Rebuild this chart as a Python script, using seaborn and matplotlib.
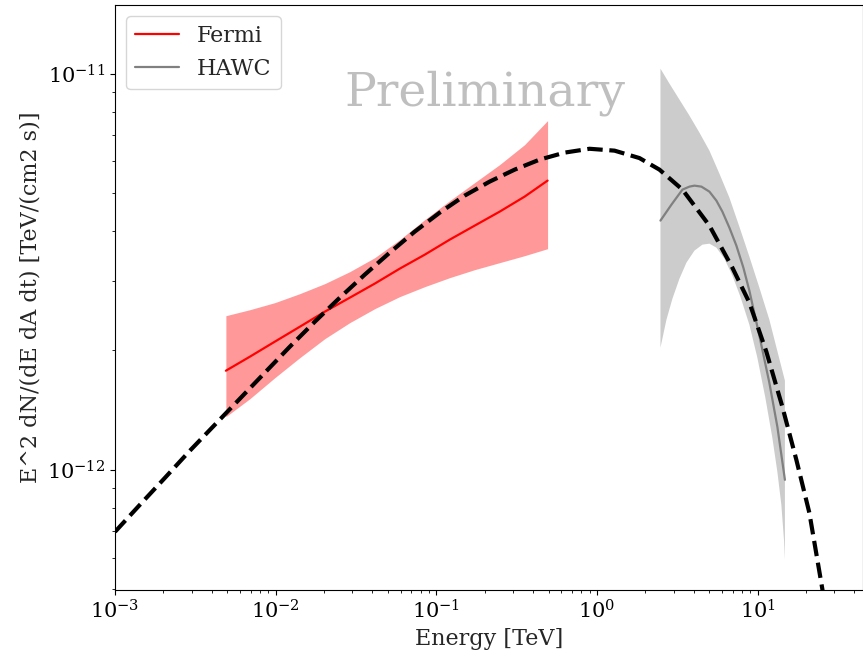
import numpy as np
import pandas as pd
import matplotlib
matplotlib.use("Agg")
import matplotlib.pyplot as plt
import seaborn as sns

# ---- data ----
# model curve (dashed)
model_E = [0.001, 0.00143, 0.002046, 0.002926, 0.004185, 0.005989, 0.008566, 0.01226,
           0.01753, 0.02507, 0.03587, 0.05131, 0.07339, 0.1050, 0.1502, 0.2149,
           0.3074, 0.4395, 0.6288, 0.8995, 1.287, 1.840, 2.451, 3.406, 5.015,
           6.970, 8.892, 11.34, 14.26, 17.43, 21.00, 25.29, 26.40]
model_F = [6.97e-13, 8.16e-13, 9.54e-13, 1.117e-12, 1.299e-12, 1.511e-12, 1.758e-12,
           2.045e-12, 2.364e-12, 2.718e-12, 3.108e-12, 3.532e-12, 3.990e-12,
           4.457e-12, 4.920e-12, 5.338e-12, 5.722e-12, 6.065e-12, 6.317e-12,
           6.460e-12, 6.390e-12, 6.120e-12, 5.722e-12, 5.095e-12, 4.132e-12,
           3.236e-12, 2.641e-12, 1.986e-12, 1.443e-12, 1.060e-12, 7.79e-13,
           5.006e-13, 4.48e-13]

# Fermi best fit and band
fermi_E = [0.0049, 0.00691, 0.00988, 0.01414, 0.02023, 0.02893, 0.04139, 0.05922,
           0.08471, 0.1212, 0.1733, 0.2479, 0.3546, 0.493]
fermi_F = [1.778e-12, 1.929e-12, 2.105e-12, 2.296e-12, 2.506e-12, 2.718e-12,
           2.950e-12, 3.218e-12, 3.490e-12, 3.809e-12, 4.132e-12, 4.482e-12,
           4.891e-12, 5.369e-12]
fermi_up = [2.448e-12, 2.535e-12, 2.641e-12, 2.783e-12, 2.950e-12, 3.162e-12,
            3.430e-12, 3.809e-12, 4.279e-12, 4.778e-12, 5.306e-12, 5.891e-12,
            6.617e-12, 7.609e-12]
fermi_lo = [1.361e-12, 1.511e-12, 1.707e-12, 1.918e-12, 2.142e-12, 2.351e-12,
            2.550e-12, 2.735e-12, 2.898e-12, 3.054e-12, 3.199e-12, 3.332e-12,
            3.470e-12, 3.614e-12]

# HAWC best fit and band
hawc_E = [2.486, 2.910, 3.406, 3.766, 4.046, 4.472, 5.015, 5.544, 6.040, 6.677,
          7.381, 8.160, 8.892, 10.26, 11.84, 13.28, 14.8]
hawc_F = [4.255e-12, 4.669e-12, 5.095e-12, 5.184e-12, 5.214e-12, 5.184e-12,
          5.035e-12, 4.778e-12, 4.482e-12, 4.084e-12, 3.679e-12, 3.236e-12,
          2.831e-12, 2.180e-12, 1.658e-12, 1.284e-12, 9.43e-13]
hawc_up_E = [2.486, 2.828, 3.264, 3.766, 4.346, 5.015, 5.787, 6.677, 7.704, 8.892,
             10.26, 11.84, 14.8]
hawc_up_F = [10.29e-12, 9.435e-12, 8.597e-12, 7.833e-12, 7.096e-12, 6.390e-12,
             5.591e-12, 4.863e-12, 4.108e-12, 3.451e-12, 2.882e-12, 2.392e-12,
             1.678e-12]
hawc_lo_E = [2.486, 2.709, 2.952, 3.264, 3.607, 4.046, 4.537, 5.015, 5.544, 6.216,
             6.970, 7.816, 8.892, 9.97, 11.18, 12.36, 13.28, 14.06, 14.6, 14.8]
hawc_lo_F = [2.033e-12, 2.392e-12, 2.703e-12, 3.036e-12, 3.332e-12, 3.573e-12,
             3.700e-12, 3.721e-12, 3.636e-12, 3.410e-12, 3.090e-12, 2.735e-12,
             2.323e-12, 1.918e-12, 1.520e-12, 1.204e-12, 9.88e-13, 8.16e-13,
             6.66e-13, 5.92e-13]

x_ticks = [1e-3, 1e-2, 1e-1, 1e0, 1e1]
y_ticks = [1e-12, 1e-11]

# ---- style ----
sns.set_style("ticks", {"axes.edgecolor": "black", "xtick.color": "black",
                        "ytick.color": "black", "xtick.direction": "out",
                        "ytick.direction": "out"})
plt.rcParams["font.family"] = ["DejaVu Serif"]
plt.rcParams["mathtext.fontset"] = "dejavuserif"

fig = plt.figure(figsize=(8.63, 6.59), dpi=100)
ax = fig.add_axes([115 / 863, 1 - 590 / 659, 747.5 / 863, 585 / 659])

df_model = pd.DataFrame({"E": model_E, "F": model_F})
df_fermi = pd.DataFrame({"E": fermi_E, "F": fermi_F})
df_hawc = pd.DataFrame({"E": hawc_E, "F": hawc_F})

ax.fill_between(fermi_E, fermi_lo, fermi_up, color="red", alpha=0.4, lw=0)
ax.fill(list(hawc_up_E) + list(hawc_lo_E[::-1]),
        list(hawc_up_F) + list(hawc_lo_F[::-1]), color="gray", alpha=0.4, lw=0)

sns.lineplot(data=df_fermi, x="E", y="F", color="red", lw=1.6, label="Fermi",
             sort=False, ax=ax)
sns.lineplot(data=df_hawc, x="E", y="F", color="gray", lw=1.6, label="HAWC",
             sort=False, ax=ax)
sns.lineplot(data=df_model, x="E", y="F", color="black", lw=3, linestyle="--",
             sort=False, ax=ax)

ax.set_xscale("log")
ax.set_yscale("log")
ax.set_xlim(1e-3, 45)
ax.set_ylim(4.97e-13, 1.49e-11)
ax.set_xticks(x_ticks)
ax.set_yticks(y_ticks)
ax.tick_params(axis="both", which="major", labelsize=15)

ax.set_xlabel("Energy [TeV]", fontsize=16)
ax.set_ylabel("E^2 dN/(dE dA dt) [TeV/(cm2 s)]", fontsize=16)

ax.text(0.495, 0.85, "Preliminary", transform=ax.transAxes, ha="center",
        va="center", fontsize=34, color="gray", alpha=0.5)

leg = ax.legend(loc="upper left", fontsize=16, frameon=True)

fig.savefig("out.png", dpi=100)
